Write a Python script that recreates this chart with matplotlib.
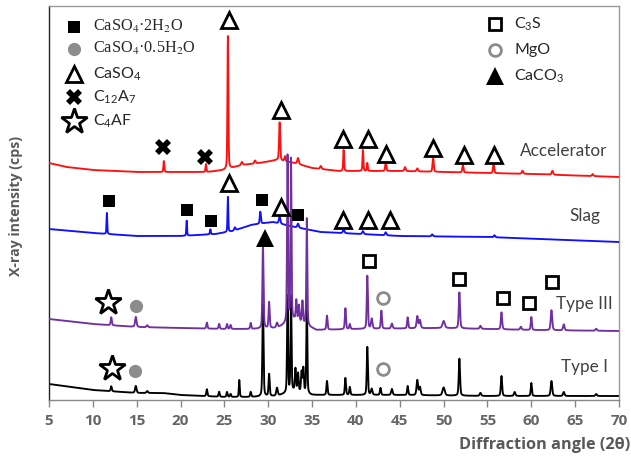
import numpy as np
import matplotlib
matplotlib.use("Agg")
import matplotlib.pyplot as plt

plt.rcParams["mathtext.fontset"] = "custom"
plt.rcParams["mathtext.rm"] = "Lato"
plt.rcParams["mathtext.it"] = "Lato:italic"
plt.rcParams["mathtext.bf"] = "Lato:bold"

# ---------------- data ----------------
two_theta = np.arange(5.0, 70.0001, 0.02)

# Accelerator (red)
acc_base_x = [5, 7, 10, 15, 20, 23, 25, 27, 29, 31, 33, 35, 38, 45, 50, 60, 70]
acc_base_y = [237, 233, 230, 228, 228, 228, 230, 235, 237, 240, 237, 232, 229, 229, 228, 226, 223]
acc_pk_pos = [18.1, 22.9, 25.4, 27.0, 28.5, 31.3, 31.9, 33.4, 36.0, 38.6, 40.8, 41.3, 43.4, 45.6, 47.0, 48.8, 52.2, 55.7, 59.0, 62.4, 67.0]
acc_pk_h   = [11, 8, 133, 3, 3, 38, 5, 6, 3, 21, 21, 8, 9, 4, 3, 15, 8, 10, 3, 4, 2]
acc_pk_w   = [0.12, 0.12, 0.12, 0.2, 0.2, 0.15, 0.15, 0.2, 0.2, 0.12, 0.12, 0.12, 0.15, 0.2, 0.2, 0.15, 0.15, 0.15, 0.2, 0.2, 0.2]

# Slag (blue)
slag_base_x = [5, 10, 15, 20, 24, 26, 28, 30.5, 33, 36, 45, 55, 70]
slag_base_y = [171, 167, 164, 164, 166, 169, 175, 178, 173, 168, 164, 163, 158]
slag_pk_pos = [11.6, 20.7, 23.4, 25.4, 26.2, 29.1, 31.3, 33.4, 38.6, 40.8, 43.4, 48.7, 55.8]
slag_pk_h   = [21, 15, 5, 35, 3, 12, 7, 4, 4, 3, 3, 2, 2]
slag_pk_w   = [0.1, 0.1, 0.12, 0.1, 0.2, 0.15, 0.2, 0.2, 0.2, 0.2, 0.2, 0.2, 0.2]

# Type III (purple)
t3_base_x = [5, 10, 15, 20, 25, 28, 31, 33, 35.5, 40, 50, 60, 70]
t3_base_y = [81, 76, 73, 72, 71, 71, 72, 80, 70, 71, 72, 70, 69]
t3_pk_pos = [12.1, 14.9, 16.2, 23.0, 24.4, 25.3, 25.7, 28.0, 29.4, 30.1, 31.0, 32.2, 32.6, 33.2, 33.5, 33.9,
             34.4, 36.7, 38.8, 39.3, 41.3, 41.8, 42.9, 44.1, 45.9, 47.0, 47.3, 50.0, 51.8, 54.2, 56.6, 58.8,
             60.0, 62.3, 63.7, 67.4]
t3_pk_h   = [8, 10, 2, 6, 5, 5, 4, 6, 83, 26, 5, 167, 162, 20, 16, 22,
             107, 14, 21, 5, 53, 10, 18, 5, 11, 12, 8, 7, 36, 3, 17, 3,
             13, 20, 6, 2]
t3_pk_w   = [0.15, 0.2, 0.2, 0.15, 0.15, 0.15, 0.15, 0.15, 0.15, 0.15, 0.2, 0.13, 0.13, 0.15, 0.15, 0.15,
             0.13, 0.15, 0.15, 0.15, 0.15, 0.2, 0.15, 0.2, 0.15, 0.2, 0.2, 0.3, 0.17, 0.2, 0.17, 0.2,
             0.15, 0.2, 0.2, 0.2]

# Type I (black)
t1_base_x = [5, 10, 15, 18, 20, 25, 28, 31, 33, 35, 45, 55, 70]
t1_base_y = [16, 10, 7, 7, 5, 3, 3, 4, 9, 5, 5, 4, 4]
t1_pk_pos = [12.1, 14.9, 16.2, 23.0, 24.4, 25.3, 25.7, 26.7, 28.0, 29.4, 30.1, 31.0, 32.2, 32.6, 33.1, 33.4,
             33.8, 34.0, 34.4, 36.7, 38.8, 39.3, 41.3, 41.8, 42.8, 44.1, 45.9, 47.0, 47.3, 50.0, 51.8, 54.2,
             56.6, 58.1, 60.0, 62.3, 63.7, 67.4]
t1_pk_h   = [5, 7, 2, 7, 5, 5, 3, 17, 5, 92, 22, 8, 97, 95, 22, 18,
             20, 24, 93, 14, 17, 8, 48, 6, 7, 6, 9, 15, 8, 8, 37, 3,
             20, 4, 13, 15, 4, 2]
t1_pk_w   = [0.15, 0.2, 0.2, 0.15, 0.15, 0.15, 0.15, 0.12, 0.15, 0.15, 0.15, 0.2, 0.13, 0.13, 0.15, 0.15,
             0.15, 0.15, 0.13, 0.15, 0.15, 0.15, 0.15, 0.2, 0.15, 0.2, 0.15, 0.2, 0.2, 0.3, 0.17, 0.2,
             0.17, 0.2, 0.15, 0.2, 0.2, 0.2]

# Phase markers (angle, plotted level)
gyp_x = [11.8, 20.7, 23.5, 29.3, 33.4]            # CaSO4.2H2O
gyp_y = [199, 190, 179, 200, 185]
hemi_x = [14.9, 14.8]                              # CaSO4.0.5H2O
hemi_y = [94, 29]
anh_x = [25.5, 31.45, 38.5, 41.4, 43.4, 48.8, 52.3, 55.7, 25.5, 31.45, 38.5, 41.4, 43.9]   # CaSO4
anh_y = [380, 290, 261, 261, 246, 252, 245, 245, 217, 193, 180, 180, 180]
c12a7_x = [18.0, 22.8]
c12a7_y = [253, 243]
c4af_x = [11.7, 12.2]
c4af_y = [98, 32]
c3s_x = [41.5, 51.7, 56.8, 59.7, 62.4]
c3s_y = [139, 121, 102, 97, 118]
mgo_x = [43.1, 43.1]
mgo_y = [102, 31]
caco3_x = [29.6]
caco3_y = [162]

sample_names = ["Accelerator", "Slag", "Type III", "Type I"]
label_x = [68.7, 67.9, 69.3, 68.7]
label_y = [249, 184, 96, 33]


def pattern(bx, by, pos, h, w):
    y = np.interp(two_theta, bx, by)
    for p, a, fw in zip(pos, h, w):
        g = np.exp(-4 * np.log(2) * ((two_theta - p) / fw) ** 2)
        lor = 1.0 / (1.0 + 4 * ((two_theta - p) / fw) ** 2)
        y = y + a * (0.6 * g + 0.4 * lor)
    return y


fig = plt.figure(figsize=(6.31, 4.62), dpi=100)
ax = fig.add_axes([49 / 631, 62 / 462, 570 / 631, 394 / 462])

LW = 1.35
ax.plot(two_theta, pattern(t1_base_x, t1_base_y, t1_pk_pos, t1_pk_h, t1_pk_w), color="black", lw=LW, zorder=2)
ax.plot(two_theta, pattern(slag_base_x, slag_base_y, slag_pk_pos, slag_pk_h, slag_pk_w), color="#1010ff", lw=LW, zorder=3)
ax.plot(two_theta, pattern(acc_base_x, acc_base_y, acc_pk_pos, acc_pk_h, acc_pk_w), color="#ff1010", lw=LW, zorder=4)
ax.plot(two_theta, pattern(t3_base_x, t3_base_y, t3_pk_pos, t3_pk_h, t3_pk_w), color="#7030a0", lw=LW, zorder=5)

styles = {
    "gyp": dict(marker="s", ms=8, mfc="black", mec="black", mew=0),
    "hemi": dict(marker="o", ms=9.5, mfc="#8c8c8c", mec="#8c8c8c", mew=0),
    "anh": dict(marker="^", ms=11.5, mfc="white", mec="black", mew=2),
    "c12a7": dict(marker="X", ms=12, mfc="black", mec="black", mew=0),
    "c4af": dict(marker="*", ms=19, mfc="white", mec="black", mew=2),
    "c3s": dict(marker="s", ms=8, mfc="white", mec="black", mew=2),
    "mgo": dict(marker="o", ms=8.5, mfc="white", mec="#8c8c8c", mew=2),
    "caco3": dict(marker="^", ms=13, mfc="black", mec="black", mew=0),
}
for key, xs, ys in [("gyp", gyp_x, gyp_y), ("hemi", hemi_x, hemi_y), ("anh", anh_x, anh_y),
                    ("c12a7", c12a7_x, c12a7_y), ("c4af", c4af_x, c4af_y), ("c3s", c3s_x, c3s_y),
                    ("mgo", mgo_x, mgo_y), ("caco3", caco3_x, caco3_y)]:
    ax.plot(xs, ys, ls="none", zorder=6, **styles[key])

for name, lx, ly in zip(sample_names, label_x, label_y):
    ax.text(lx, ly, name, ha="right", va="center", fontsize=12.3, family="Lato", color="#404040", zorder=7)

# Legends (manual, axes fraction)
left_entries = [("gyp", r"CaSO$_4$·2H$_2$O", "serif"), ("hemi", r"CaSO$_4$·0.5H$_2$O", "serif"),
                ("anh", r"CaSO$_4$", "sans"), ("c12a7", r"C$_{12}$A$_7$", "sans"), ("c4af", r"C$_4$AF", "sans")]
left_rows = [0.947, 0.891, 0.827, 0.769, 0.708]
for (key, txt, fam), yy in zip(left_entries, left_rows):
    ax.plot([0.043], [yy], transform=ax.transAxes, ls="none", clip_on=False, zorder=6, **styles[key])
    if fam == "serif":
        ax.text(0.077, yy, txt, transform=ax.transAxes, ha="left", va="center", fontsize=11.7,
                family="Liberation Serif", math_fontfamily="stix", color="#262626")
    else:
        ax.text(0.077, yy, txt, transform=ax.transAxes, ha="left", va="center", fontsize=11.5,
                family="Lato", color="#262626")

right_entries = [("c3s", r"C$_3$S"), ("mgo", "MgO"), ("caco3", r"CaCO$_3$")]
right_rows = [0.954, 0.888, 0.822]
for (key, txt), yy in zip(right_entries, right_rows):
    ax.plot([0.783], [yy], transform=ax.transAxes, ls="none", clip_on=False, zorder=6, **styles[key])
    ax.text(0.816, yy, txt, transform=ax.transAxes, ha="left", va="center", fontsize=11.5,
            family="Lato", color="#262626")

ax.set_xlim(5, 70)
ax.set_ylim(0, 394)
ax.set_xticks(np.arange(5, 71, 5))
ax.set_yticks([])
ax.tick_params(axis="x", direction="out", length=5, width=1, color="#888888", labelcolor="#666666",
               labelsize=11, pad=5)
for lab in ax.get_xticklabels():
    lab.set_fontweight("bold")
    lab.set_family("Open Sans")
ax.spines["left"].set_color("#222222")
ax.spines["bottom"].set_color("#888888")
ax.spines["top"].set_color("#999999")
ax.spines["right"].set_color("#999999")
for s in ax.spines.values():
    s.set_linewidth(1.0)

fig.text(16 / 631, 1 - 206 / 462, "X-ray intensity (cps)", rotation=90, ha="center", va="center",
         fontsize=10.2, fontweight="bold", family="Open Sans", color="#595959")
fig.text(630 / 631, 1 - 445 / 462, "Diffraction angle (2θ)", ha="right", va="center",
         fontsize=11.7, fontweight="bold", family=["Open Sans", "DejaVu Sans"], color="#595959")

fig.savefig("out.png", dpi=100)
